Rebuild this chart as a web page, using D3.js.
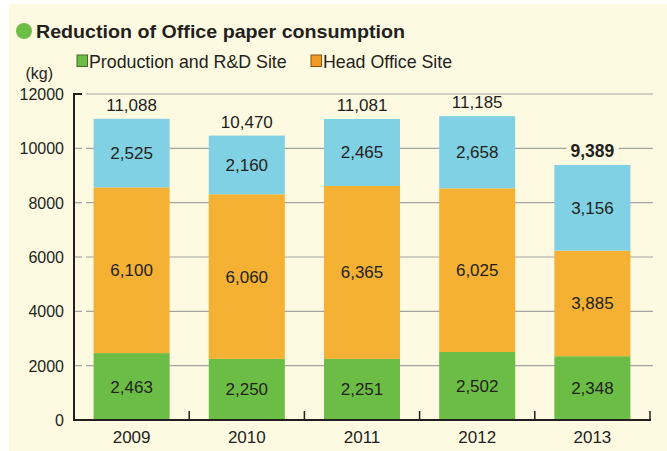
<!DOCTYPE html>
<html><head><meta charset="utf-8">
<script src="https://cdn.jsdelivr.net/npm/d3@7"></script>
<style>html,body{margin:0;padding:0;background:#fff;}svg{display:block;font-family:"Liberation Sans",Arial,sans-serif;}</style>
</head><body>
<svg id="c" width="667" height="451"></svg>
<script>
const years = ["2009","2010","2011","2012","2013"];
const production = [2463, 2250, 2251, 2502, 2348];
const headOffice = [6100, 6060, 6365, 6025, 3885];
const other = [2525, 2160, 2465, 2658, 3156];
const totals = [11088, 10470, 11081, 11185, 9389];
const yTicks = [0, 2000, 4000, 6000, 8000, 10000, 12000];
const seriesNames = ["Production and R&D Site", "Head Office Site"];

const svg = d3.select("#c");
const ink = "#231f20";
const colors = ["#6cbd45", "#f4b134", "#80d1e3"];

svg.append("rect").attr("x", 9).attr("y", 4).attr("width", 658).attr("height", 447).attr("fill", "#fefae2");

const x = d3.scaleBand().domain(years).range([74, 650]).padding(0);
const y = d3.scaleLinear().domain([0, 12000]).range([420, 94]);
const barW = x.bandwidth() * 0.66;

// gridlines
svg.append("g").selectAll("line").data(yTicks.filter(d => d > 0)).join("line")
  .attr("x1", 86).attr("x2", 653).attr("y1", d => y(d)).attr("y2", d => y(d))
  .attr("stroke", "#a3a3a3").attr("stroke-width", 1.2);
// small y ticks
svg.append("g").selectAll("line").data(yTicks.filter(d => d > 0)).join("line")
  .attr("x1", 74).attr("x2", 82).attr("y1", d => y(d)).attr("y2", d => y(d))
  .attr("stroke", d => d === 12000 ? ink : "#a3a3a3").attr("stroke-width", d => d === 12000 ? 2 : 1.2);

// stacked bars
const rows = years.map((yr, i) => ({ yr, vals: [production[i], headOffice[i], other[i]] }));
const g = svg.append("g");
rows.forEach((r, i) => {
  let base = 0;
  r.vals.forEach((v, k) => {
    const x0 = x(r.yr) + (x.bandwidth() - barW) / 2;
    g.append("rect").attr("x", x0).attr("width", barW)
      .attr("y", y(base + v)).attr("height", y(base) - y(base + v))
      .attr("fill", colors[k]);
    g.append("text").attr("x", x(r.yr) + x.bandwidth() / 2).attr("y", y(base + v / 2) + 6)
      .attr("text-anchor", "middle").attr("font-size", 17).attr("fill", ink)
      .text(d3.format(",")(v));
    base += v;
  });
});

// totals
totals.forEach((t, i) => {
  const cx = x(years[i]) + x.bandwidth() / 2;
  const cy = y(t) - 14;
  const bold = i === years.length - 1;
  const txt = svg.append("text").attr("x", cx).attr("y", cy + 6)
    .attr("text-anchor", "middle").attr("font-size", bold ? 17.5 : 17)
    .attr("font-weight", bold ? "bold" : "normal").attr("fill", ink)
    .text(d3.format(",")(t));
  if (bold) {
    const bb = txt.node().getBBox();
    svg.insert("rect", () => txt.node()).attr("x", bb.x - 4).attr("y", cy - 7)
      .attr("width", bb.width + 8).attr("height", 14).attr("fill", "#fefae2");
  }
});

// axes
svg.append("line").attr("x1", 74).attr("x2", 74).attr("y1", 93).attr("y2", 421).attr("stroke", ink).attr("stroke-width", 2);
svg.append("line").attr("x1", 73).attr("x2", 651).attr("y1", 420).attr("y2", 420).attr("stroke", ink).attr("stroke-width", 2);
svg.append("g").selectAll("line").data(years).join("line")
  .attr("x1", d => x(d) + x.bandwidth()).attr("x2", d => x(d) + x.bandwidth())
  .attr("y1", 420).attr("y2", 411).attr("stroke", ink).attr("stroke-width", 1.5);

// y labels
svg.append("g").selectAll("text").data(yTicks).join("text")
  .attr("x", 64).attr("y", d => y(d) + 6).attr("text-anchor", "end")
  .attr("font-size", 16).attr("fill", ink).text(d => d);
svg.append("text").attr("x", 53).attr("y", 79).attr("text-anchor", "end")
  .attr("font-size", 16).attr("fill", ink).text("(kg)");

// x labels
svg.append("g").selectAll("text").data(years).join("text")
  .attr("x", d => x(d) + x.bandwidth() / 2).attr("y", 443).attr("text-anchor", "middle")
  .attr("font-size", 17).attr("fill", ink).text(d => d);

// title
svg.append("circle").attr("cx", 24).attr("cy", 31).attr("r", 8).attr("fill", "#6cbd45");
svg.append("text").attr("x", 36).attr("y", 38).attr("font-size", 18.5).attr("font-weight", "bold")
  .attr("textLength", 369).attr("lengthAdjust", "spacingAndGlyphs")
  .attr("fill", ink).text("Reduction of Office paper consumption");

// legend
const legX = [77, 311];
const legFill = ["#6cbd45", "#f39a26"];
const legStroke = ["#3d6b2a", "#8a5216"];
seriesNames.forEach((n, i) => {
  svg.append("rect").attr("x", legX[i]).attr("y", 55).attr("width", 10.5).attr("height", 11.5)
    .attr("fill", legFill[i]).attr("stroke", legStroke[i]).attr("stroke-width", 1);
  svg.append("text").attr("x", legX[i] + 12).attr("y", 68).attr("font-size", 17.8).attr("fill", ink).text(n);
});
</script>
</body></html>
